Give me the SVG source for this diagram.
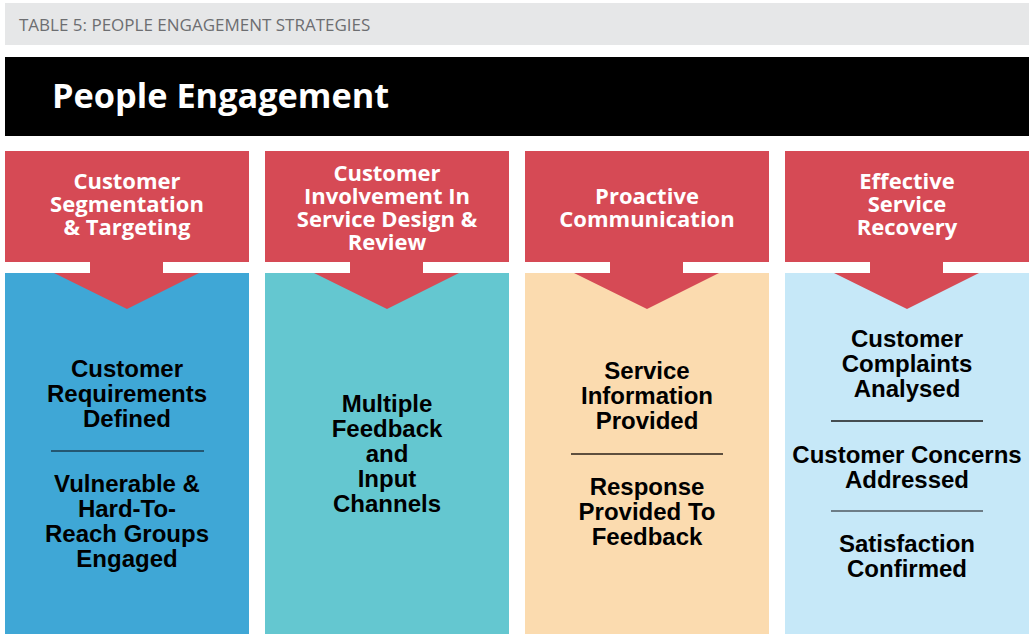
<svg xmlns="http://www.w3.org/2000/svg" width="1029" height="634" viewBox="0 0 1029 634">
  <style>
    .caption { font-family: "Open Sans", "Liberation Sans", sans-serif; font-size: 17px; fill: #6d6e71; }
    .banner { font-family: "Open Sans", "Liberation Sans", sans-serif; font-weight: 700; font-size: 34.3px; fill: #ffffff; }
    .head { fill: #d64a55; }
    .htext { font-family: "Open Sans", "Liberation Sans", sans-serif; font-weight: 700; font-size: 22px; fill: #ffffff; text-anchor: middle; }
    .btext { font-family: "Liberation Sans", "Arial", sans-serif; font-weight: 700; font-size: 24px; fill: #000000; text-anchor: middle; }
    .rule { stroke-width: 1.5; }
  </style>

  <!-- caption strip -->
  <rect x="5" y="3" width="1024" height="42" fill="#e6e7e8"/>
  <text class="caption" x="19" y="31">TABLE 5: PEOPLE ENGAGEMENT STRATEGIES</text>

  <!-- banner -->
  <rect x="5" y="57" width="1024" height="79" fill="#000000"/>
  <text class="banner" x="52" y="108">People Engagement</text>

  <!-- column 1 -->
  <g id="col-segmentation">
    <rect x="5" y="273" width="244" height="361" fill="#3fa7d6"/>
    <rect class="head" x="5" y="151" width="244" height="111"/>
    <path class="head" d="M90 261 H163 V273 H199 L127 309 L54 273 H90 Z"/>
    <text class="htext" x="127" y="189">Customer</text>
    <text class="htext" x="127" y="212">Segmentation</text>
    <text class="htext" x="127" y="235">&amp; Targeting</text>
    <text class="btext" x="127" y="377">Customer</text>
    <text class="btext" x="127" y="402">Requirements</text>
    <text class="btext" x="127" y="427">Defined</text>
    <line class="rule" x1="51" y1="451" x2="204" y2="451" stroke="#1d3c50"/>
    <text class="btext" x="127" y="492">Vulnerable &amp;</text>
    <text class="btext" x="127" y="517">Hard-To-</text>
    <text class="btext" x="127" y="542">Reach Groups</text>
    <text class="btext" x="127" y="567">Engaged</text>
  </g>

  <!-- column 2 -->
  <g id="col-involvement">
    <rect x="265" y="273" width="244" height="361" fill="#64c7d0"/>
    <rect class="head" x="265" y="151" width="244" height="111"/>
    <path class="head" d="M350 261 H423 V273 H459 L387 309 L314 273 H350 Z"/>
    <text class="htext" x="387" y="181">Customer</text>
    <text class="htext" x="387" y="204">Involvement In</text>
    <text class="htext" x="387" y="227">Service Design &amp;</text>
    <text class="htext" x="387" y="250">Review</text>
    <text class="btext" x="387" y="412">Multiple</text>
    <text class="btext" x="387" y="437">Feedback</text>
    <text class="btext" x="387" y="462">and</text>
    <text class="btext" x="387" y="487">Input</text>
    <text class="btext" x="387" y="512">Channels</text>
  </g>

  <!-- column 3 -->
  <g id="col-communication">
    <rect x="525" y="273" width="244" height="361" fill="#fbdbaf"/>
    <rect class="head" x="525" y="151" width="244" height="111"/>
    <path class="head" d="M610 261 H683 V273 H719 L647 309 L574 273 H610 Z"/>
    <text class="htext" x="647" y="204">Proactive</text>
    <text class="htext" x="647" y="227">Communication</text>
    <text class="btext" x="647" y="379">Service</text>
    <text class="btext" x="647" y="404">Information</text>
    <text class="btext" x="647" y="429">Provided</text>
    <line class="rule" x1="571" y1="454" x2="723" y2="454" stroke="#2a2118"/>
    <text class="btext" x="647" y="495">Response</text>
    <text class="btext" x="647" y="520">Provided To</text>
    <text class="btext" x="647" y="545">Feedback</text>
  </g>

  <!-- column 4 -->
  <g id="col-recovery">
    <rect x="785" y="273" width="244" height="361" fill="#c6e8f8"/>
    <rect class="head" x="785" y="151" width="244" height="111"/>
    <path class="head" d="M870 261 H943 V273 H979 L907 309 L834 273 H870 Z"/>
    <text class="htext" x="907" y="189">Effective</text>
    <text class="htext" x="907" y="212">Service</text>
    <text class="htext" x="907" y="235">Recovery</text>
    <text class="btext" x="907" y="347">Customer</text>
    <text class="btext" x="907" y="372">Complaints</text>
    <text class="btext" x="907" y="397">Analysed</text>
    <line class="rule" x1="831" y1="421" x2="983" y2="421" stroke="#1a1a1a"/>
    <text class="btext" x="907" y="463">Customer Concerns</text>
    <text class="btext" x="907" y="488">Addressed</text>
    <line class="rule" x1="831" y1="511" x2="983" y2="511" stroke="#4f5a62"/>
    <text class="btext" x="907" y="552">Satisfaction</text>
    <text class="btext" x="907" y="577">Confirmed</text>
  </g>
</svg>
